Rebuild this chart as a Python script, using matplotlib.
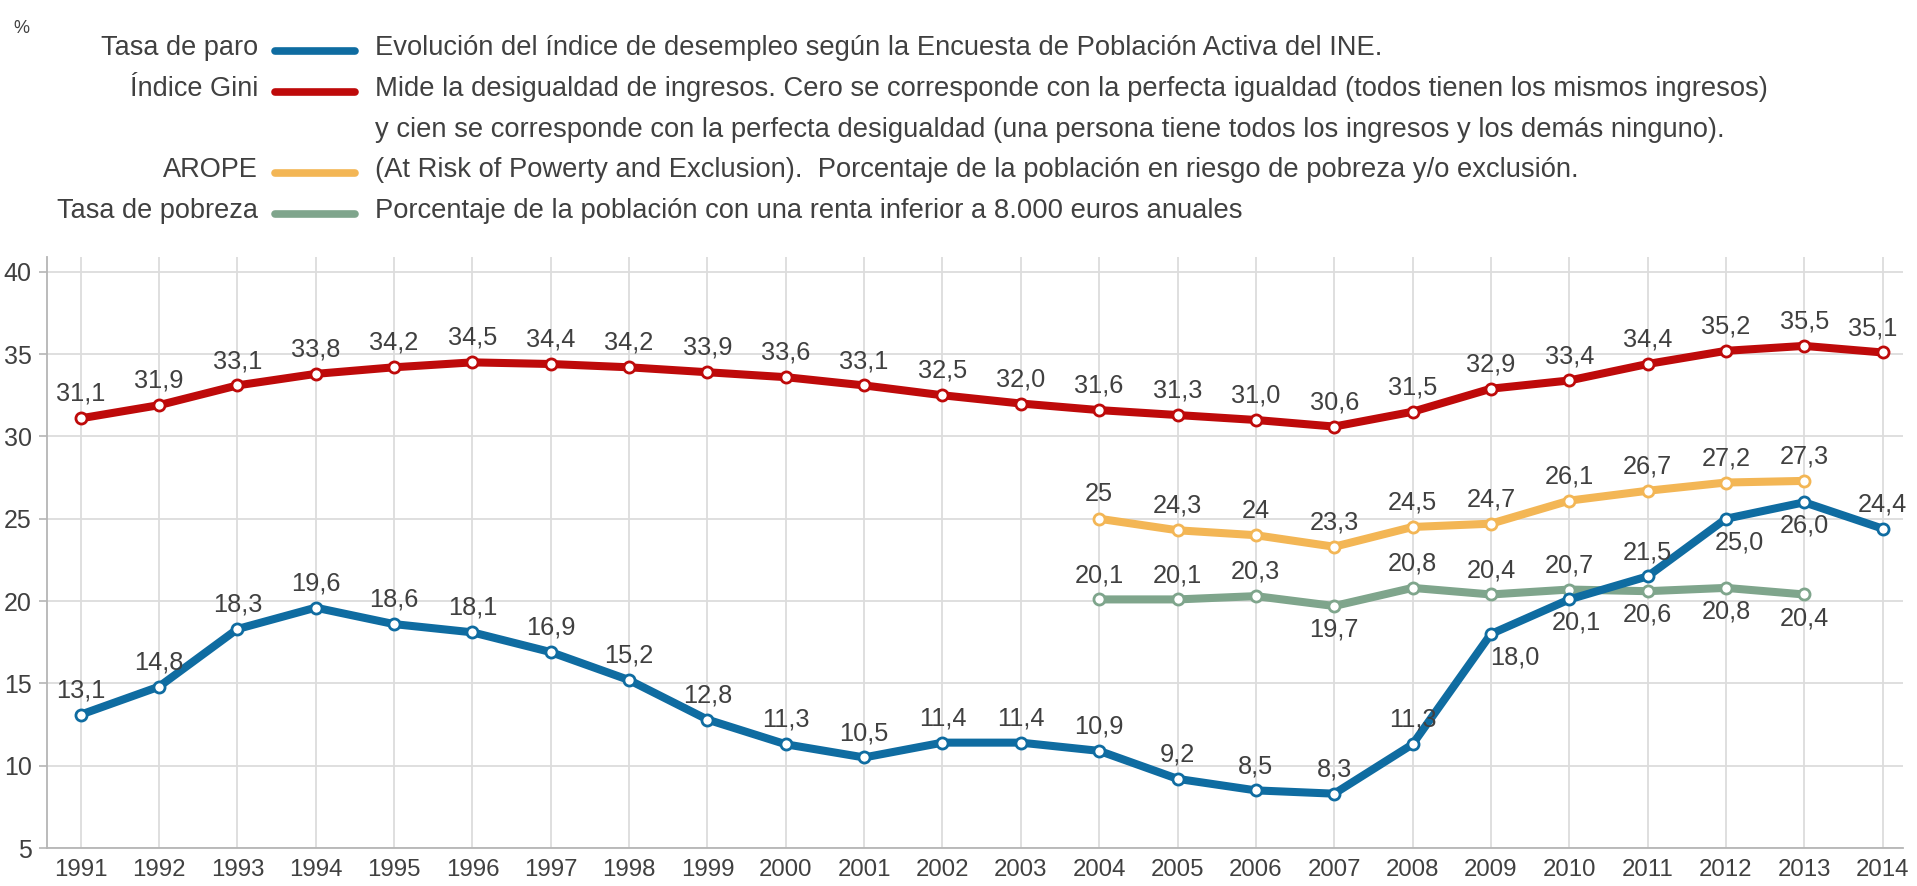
import numpy as np
import matplotlib
matplotlib.use('Agg')
import matplotlib.pyplot as plt

plt.rcParams['font.family'] = ['Liberation Sans', 'DejaVu Sans']

# datos
years = list(range(1991, 2015))
paro = [13.1, 14.8, 18.3, 19.6, 18.6, 18.1, 16.9, 15.2, 12.8, 11.3, 10.5, 11.4,
        11.4, 10.9, 9.2, 8.5, 8.3, 11.3, 18.0, 20.1, 21.5, 25.0, 26.0, 24.4]
gini = [31.1, 31.9, 33.1, 33.8, 34.2, 34.5, 34.4, 34.2, 33.9, 33.6, 33.1, 32.5,
        32.0, 31.6, 31.3, 31.0, 30.6, 31.5, 32.9, 33.4, 34.4, 35.2, 35.5, 35.1]
years_b = list(range(2004, 2014))
arope = [25, 24.3, 24, 23.3, 24.5, 24.7, 26.1, 26.7, 27.2, 27.3]
arope_txt = ['25', '24,3', '24', '23,3', '24,5', '24,7', '26,1', '26,7', '27,2', '27,3']
pobreza = [20.1, 20.1, 20.3, 19.7, 20.8, 20.4, 20.7, 20.6, 20.8, 20.4]

series_names = ['Tasa de paro', 'Índice Gini', '', 'AROPE', 'Tasa de pobreza']
series_desc = [
    'Evolución del índice de desempleo según la Encuesta de Población Activa del INE.',
    'Mide la desigualdad de ingresos. Cero se corresponde con la perfecta igualdad (todos tienen los mismos ingresos)',
    'y cien se corresponde con la perfecta desigualdad (una persona tiene todos los ingresos y los demás ninguno).',
    '(At Risk of Powerty and Exclusion).  Porcentaje de la población en riesgo de pobreza y/o exclusión.',
    'Porcentaje de la población con una renta inferior a 8.000 euros anuales',
]

c_paro = '#0F6CA1'
c_gini = '#BE0A0A'
c_arope = '#F3B655'
c_pob = '#7FA58C'
txt_c = '#404040'
grid_c = '#DCDCDC'

W, H = 1917, 886
fig = plt.figure(figsize=(W / 100, H / 100), dpi=100)

def fx(px):
    return px / W

def fy(py):
    return 1 - py / H

ax = fig.add_axes([fx(47), fy(848), fx(1903) - fx(47), fy(257) - fy(848)])
ax.set_xlim(1990.57, 2014.26)
ax.set_ylim(5, 40.9)
ax.set_xticks(years)
ax.set_yticks(range(5, 41, 5))
ax.grid(True, color=grid_c, lw=1.3)
ax.set_axisbelow(True)
for s in ['top', 'right']:
    ax.spines[s].set_visible(False)
for s in ['left', 'bottom']:
    ax.spines[s].set_color('#B5B5B5')
    ax.spines[s].set_linewidth(1.3)
ax.tick_params(axis='x', length=0, pad=8, labelsize=17.3, labelcolor=txt_c)
ax.tick_params(axis='y', length=6, width=1.2, color='#B5B5B5', pad=5,
               labelsize=18, labelcolor=txt_c)

def fmt(v):
    return ('%.1f' % v).replace('.', ',')

def draw(x, y, color, labels, below=(), dx=None):
    ax.plot(x, y, color=color, lw=5.8, marker='o', ms=8, mfc='white',
            mec=color, mew=2, solid_joinstyle='round', zorder=3)
    dx = dx or {}
    for xi, yi, t in zip(x, y, labels):
        if xi in below:
            off = (dx.get(xi, 0), -22)
        else:
            off = (dx.get(xi, 0), 12.5)
        ax.annotate(t, (xi, yi), xytext=off, textcoords='offset points',
                    ha='center', va='baseline', fontsize=18.3, color=txt_c, zorder=4)

draw(years, gini, c_gini, [fmt(v) for v in gini], dx={2014: -7})
draw(years_b, arope, c_arope, arope_txt)
draw(years_b, pobreza, c_pob, [fmt(v) for v in pobreza], below=(2007, 2011, 2012, 2013))
draw(years, paro, c_paro, [fmt(v) for v in paro], below=(2009, 2010, 2012, 2013),
     dx={2009: 17, 2010: 5, 2012: 10})

# leyenda de arriba
fig.text(fx(13), fy(33), '%', fontsize=13, color=txt_c, ha='left', va='baseline')
rows = [51, 92, 133, 173, 214]
colors = [c_paro, c_gini, None, c_arope, c_pob]
for name, desc, col, r in zip(series_names, series_desc, colors, rows):
    if name:
        fig.text(fx(258), fy(r + 4), name, fontsize=19.5, color=txt_c, ha='right', va='baseline')
    if col:
        fig.add_artist(plt.Line2D([fx(275), fx(355)], [fy(r), fy(r)], color=col, lw=5.5,
                                  solid_capstyle='round', transform=fig.transFigure))
    fig.text(fx(375), fy(r + 4), desc, fontsize=19.7, color=txt_c, ha='left', va='baseline')

plt.savefig('out.png', dpi=100)
